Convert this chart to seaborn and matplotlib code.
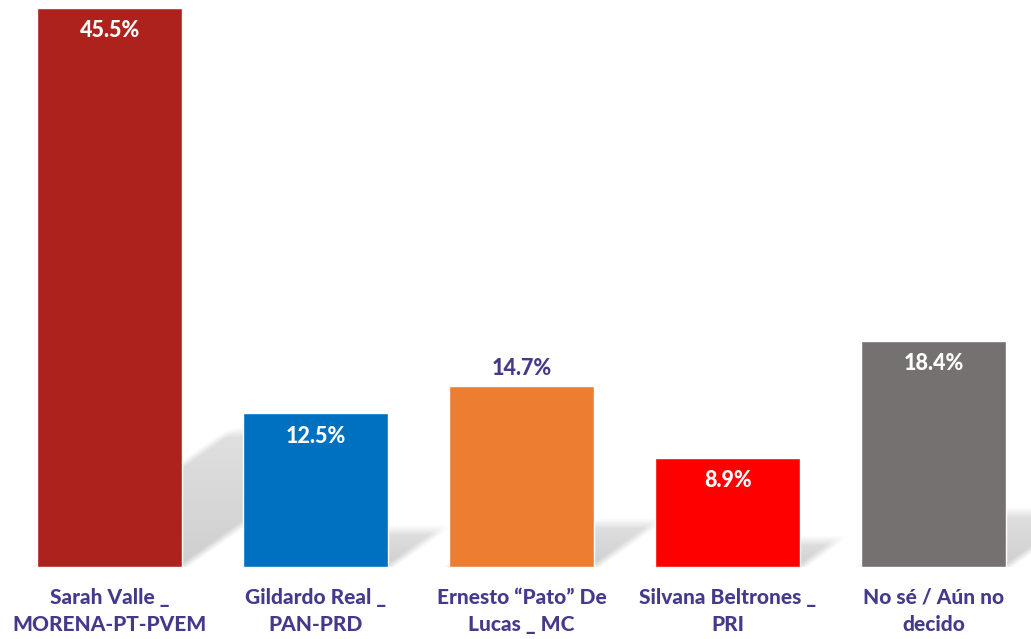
import numpy as np
import pandas as pd
import matplotlib
matplotlib.use("Agg")
import matplotlib.pyplot as plt
import seaborn as sns

categories = ["Sarah Valle _\nMORENA-PT-PVEM", "Gildardo Real _\nPAN-PRD",
              "Ernesto \u201cPato\u201d De\nLucas _ MC", "Silvana Beltrones _\nPRI",
              "No s\u00e9 / A\u00fan no\ndecido"]
values = [45.5, 12.5, 14.7, 8.9, 18.4]
value_labels = ["45.5%", "12.5%", "14.7%", "8.9%", "18.4%"]
bar_colors = ["#AE221E", "#0070C0", "#ED7D31", "#FF0000", "#767171"]
label_inside = [True, True, False, True, True]

PURPLE = "#443A8C"

sns.set_theme(style="white")
plt.rcParams['font.family'] = ['Lato', 'DejaVu Sans']

fig = plt.figure(figsize=(10.31, 6.39), dpi=100)
ax = fig.add_axes([0, 72/639, 1, 567/639])

df = pd.DataFrame({"cat": categories, "val": values})
sns.barplot(data=df, x="cat", y="val", hue="cat", palette=bar_colors,
            legend=False, width=0.705, saturation=1, ax=ax, zorder=3)

XLIM = (-0.532, 4.473)
YLIM = (0, 46.15)
ax.set_xlim(*XLIM)
ax.set_ylim(*YLIM)

# pixel scale of the axes
PX_X = 1031 / (XLIM[1] - XLIM[0])
PX_Y = 567 / (YLIM[1] - YLIM[0])

# soft perspective shadows behind bars
BLUR = 10.0
for p in list(ax.patches):
    x0, w, h = p.get_x(), p.get_width(), p.get_height()
    dx = 0.0203 * h
    dy = 0.24 * h
    ex0, ex1 = x0 - 0.06, x0 + w + dx + 0.06
    ey0, ey1 = 0, dy + 12 / PX_Y
    nx, ny = 300, 200
    xs = np.linspace(ex0, ex1, nx)
    ys = np.linspace(ey0, ey1, ny)
    X, Y = np.meshgrid(xs, ys)
    u = Y / dy
    xp = X - dx * u
    d_left = (xp - x0) * PX_X * 0.8
    d_right = (x0 + w - xp) * PX_X * 0.8
    d_top = (dy - Y) * PX_Y
    def ramp(d):
        return np.clip((d + BLUR / 2) / BLUR, 0, 1)
    a = ramp(d_left) * ramp(d_right) * ramp(d_top)
    a *= 0.42 * (1 - 0.35 * np.clip(u, 0, 1))
    rgba = np.zeros((ny, nx, 4))
    rgba[..., :3] = 0.55
    rgba[..., 3] = a
    ax.imshow(rgba, extent=(ex0, ex1, ey0, ey1), origin="lower",
              aspect="auto", zorder=1, interpolation="bilinear")

ax.set_xlim(*XLIM)
ax.set_ylim(*YLIM)

# value labels
for p, lab, inside in zip(ax.patches[:len(values)], value_labels, label_inside):
    cx = p.get_x() + p.get_width() / 2
    top = p.get_height()
    if inside:
        ax.annotate(lab, (cx, top), xytext=(0, -16.5), textcoords="offset points",
                    ha="center", va="center", color="white", fontsize=15.5,
                    fontweight="black", zorder=5)
    else:
        ax.annotate(lab, (cx, top), xytext=(0, 13), textcoords="offset points",
                    ha="center", va="center", color=PURPLE, fontsize=15.5,
                    fontweight="black", zorder=5)

ax.set_xlabel("")
ax.set_ylabel("")
ax.set_yticks([])
ax.tick_params(axis="x", length=0, pad=15)
for t in ax.get_xticklabels():
    t.set_fontsize(15)
    t.set_fontweight("black")
    t.set_color(PURPLE)
    t.set_linespacing(1.5)
for s in ax.spines.values():
    s.set_visible(False)

fig.savefig("out.png", dpi=100)
